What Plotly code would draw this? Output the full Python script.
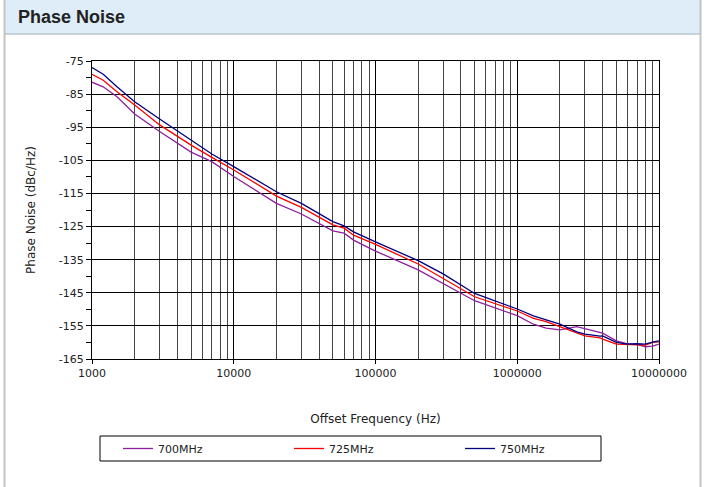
import plotly.graph_objects as go

# ---- data ----
freq_hz = [1000, 1200, 1500, 2000, 3000, 5000, 7000, 10000, 20000, 30000, 50000,
           60000, 70000, 100000, 200000, 300000, 500000, 1000000, 1300000, 1600000,
           2000000, 2630000, 3000000, 3840000, 4000000, 5000000, 6000000, 7000000,
           8000000, 9000000, 10000000]

pn_700 = [-81.4, -82.8, -85.8, -91.0, -96.3, -102.5, -105.4, -109.9, -118.0, -121.2, -126.3,
          -127.0, -129.1, -132.4, -138.1, -142.1, -147.4, -151.9, -154.5, -155.7,
          -156.2, -155.2, -155.8, -156.8, -157.2, -159.5, -160.4, -160.6,
          -161.3, -161.1, -160.5]

pn_725 = [-79.0, -80.8, -84.3, -88.3, -94.3, -100.4, -104.1, -107.9, -115.8, -119.2, -124.5,
          -125.5, -127.6, -130.4, -136.3, -140.6, -146.2, -150.5, -152.7, -153.7,
          -155.2, -157.1, -158.0, -158.6, -159.0, -160.5, -160.6, -160.6,
          -160.8, -160.0, -159.8]

pn_750 = [-77.0, -79.0, -82.8, -87.3, -92.5, -98.9, -103.1, -106.9, -114.5, -118.0, -123.5,
          -124.8, -126.6, -129.6, -135.3, -139.3, -145.2, -149.9, -152.0, -153.2,
          -154.5, -156.8, -157.5, -158.1, -158.0, -160.0, -160.5, -160.4,
          -160.5, -159.9, -159.5]

series_names = ["700MHz", "725MHz", "750MHz"]
series_colors = ["#8e1f9e", "#ff0000", "#000080"]

x_tick_vals = [1000, 10000, 100000, 1000000, 10000000]
x_tick_labels = ["1000", "10000", "100000", "1000000", "10000000"]
y_tick_vals = [-75, -85, -95, -105, -115, -125, -135, -145, -155, -165]
y_tick_labels = [str(v) for v in y_tick_vals]

title_text = "Phase Noise"
x_title = "Offset Frequency (Hz)"
y_title = "Phase Noise (dBc/Hz)"

# ---- layout geometry ----
W, H = 705, 487
L, R, T, B = 92, 659, 61, 359
pw, ph = R - L, B - T


def px(x):
    return (x - L) / pw


def py(y):
    return (B - y) / ph


FONT = "Verdana, DejaVu Sans, sans-serif"

fig = go.Figure()
for name, vals, col in zip(series_names, [pn_700, pn_725, pn_750], series_colors):
    fig.add_trace(go.Scatter(x=freq_hz, y=vals, mode="lines", name=name,
                             line=dict(color=col, width=1.3)))

shapes = [
    # header band
    dict(type="rect", xref="paper", yref="paper", x0=px(4), x1=px(701), y0=py(34), y1=py(0),
         fillcolor="#deedf8", line=dict(width=0), layer="below"),
    dict(type="line", xref="paper", yref="paper", x0=px(4), x1=px(701), y0=py(34), y1=py(34),
         line=dict(color="#b8c4cc", width=1.5)),
    # outer panel borders
    dict(type="line", xref="paper", yref="paper", x0=px(4.5), x1=px(4.5), y0=py(487), y1=py(0),
         line=dict(color="#c4c4c4", width=2)),
    dict(type="line", xref="paper", yref="paper", x0=px(700.5), x1=px(700.5), y0=py(487), y1=py(0),
         line=dict(color="#c4c4c4", width=2)),
    # legend frame
    dict(type="rect", xref="paper", yref="paper", x0=px(100), x1=px(601), y0=py(461), y1=py(436),
         line=dict(color="#000000", width=1), fillcolor="rgba(0,0,0,0)"),
]

fig.update_layout(
    width=W, height=H,
    margin=dict(l=L, r=W - R, t=T, b=H - B, pad=0),
    paper_bgcolor="white", plot_bgcolor="white",
    showlegend=True,
    legend=dict(orientation="h", x=px(118), y=py(448.5), xanchor="left", yanchor="middle",
                entrywidth=126, entrywidthmode="pixels", bgcolor="rgba(0,0,0,0)",
                font=dict(family=FONT, size=11, color="#222222"), itemwidth=30),
    shapes=shapes,
    annotations=[dict(text="<b>" + title_text + "</b>", xref="paper", yref="paper",
                      x=px(16), y=py(17), xanchor="left", yanchor="middle", showarrow=False,
                      font=dict(family="Liberation Sans, Arial, sans-serif", size=18, color="#222222"))],
    xaxis=dict(type="log", range=[3, 7], tickmode="array", tickvals=x_tick_vals, ticktext=x_tick_labels,
               ticks="outside", ticklen=4, tickcolor="#000000",
               showline=True, linecolor="#000000", linewidth=1, mirror=True,
               showgrid=True, gridcolor="#000000", gridwidth=1,
               minor=dict(dtick="D1", showgrid=True, gridcolor="#444444", gridwidth=1, ticks=""),
               tickfont=dict(family=FONT, size=11, color="#222222"),
               title=dict(text=x_title, font=dict(family=FONT, size=12, color="#222222"), standoff=35),
               zeroline=False),
    yaxis=dict(range=[-165, -75], tickmode="array", tickvals=y_tick_vals, ticktext=y_tick_labels,
               ticks="outside", ticklen=5, tickcolor="#000000",
               showline=True, linecolor="#000000", linewidth=1, mirror=True,
               showgrid=True, gridcolor="#000000", gridwidth=1,
               minor=dict(dtick=5, tick0=-165, ticks="outside", ticklen=5, tickcolor="#000000", showgrid=False),
               tickfont=dict(family=FONT, size=11, color="#222222"),
               title=dict(text=y_title, font=dict(family=FONT, size=12, color="#222222"), standoff=20),
               zeroline=False),
)

fig.write_html("out.html", post_script="document.body.style.margin='0';",
               config={"displayModeBar": False})
